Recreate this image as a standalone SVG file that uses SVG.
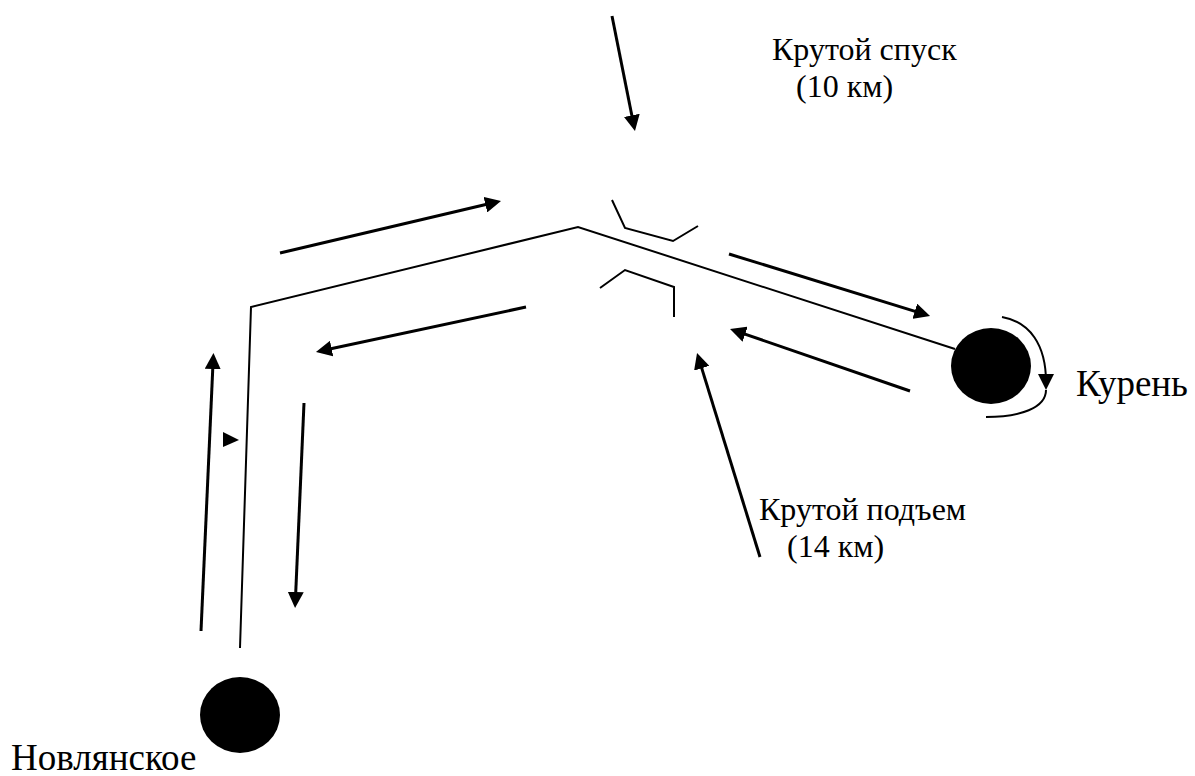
<svg xmlns="http://www.w3.org/2000/svg" width="1195" height="776" viewBox="0 0 1195 776">
<style>
.l{fill:none;stroke:#000;stroke-width:2}
.a{fill:none;stroke:#000;stroke-width:3;marker-end:url(#h)}
.c{fill:none;stroke:#000;stroke-width:2;marker-end:url(#h)}
.t{font-family:"Liberation Serif",serif;fill:#000}
.s{font-size:32px}
.b{font-size:37px}
</style>
<defs><marker id="h" markerUnits="userSpaceOnUse" markerWidth="18" markerHeight="16" refX="8" refY="8" orient="auto"><path d="M0 0L16 8L0 16Z" fill="#000"/></marker></defs>
<rect width="1195" height="776" fill="#fff"/>
<g id="connectors">
<path class="l" d="M240 648L251 307L578 227L955 349"/>
<path class="l" d="M612 200L625 228L673 241L698 226"/>
<path class="l" d="M600 288L625 270L674 287V317"/>
<path class="l" d="M1046 390C1046 408 1020 417 986 417"/>
<path class="c" d="M1002 317C1030 322 1046 345 1046 382"/>
<path class="a" d="M612 16L633.4 123.2"/>
<path class="a" d="M280 253L493.2 202.8"/>
<path class="a" d="M729 254L922.4 313.6"/>
<path class="a" d="M910 391L737.6 331.6"/>
<path class="a" d="M526 307L323.8 350.3"/>
<path class="a" d="M304 403L295.4 600"/>
<path class="a" d="M201 631L213.1 361"/>
<path class="a" d="M760 557L699.4 360.6"/>
<path d="M223 432L239 440L223 447Z" fill="#000"/>
</g>
<g id="kuren"><ellipse cx="991" cy="366" rx="40" ry="38" fill="#000"/><text class="t b" x="1076" y="396">Курень</text></g>
<g id="novlyanskoe"><ellipse cx="240" cy="715" rx="40" ry="38" fill="#000"/><text class="t b" x="11" y="770">Новлянское</text></g>
<g id="descent"><text class="t s" x="772" y="60">Крутой спуск</text><text class="t s" x="796" y="97">(10 км)</text></g>
<g id="ascent"><text class="t s" x="759" y="520">Крутой подъем</text><text class="t s" x="787" y="557">(14 км)</text></g>
</svg>
